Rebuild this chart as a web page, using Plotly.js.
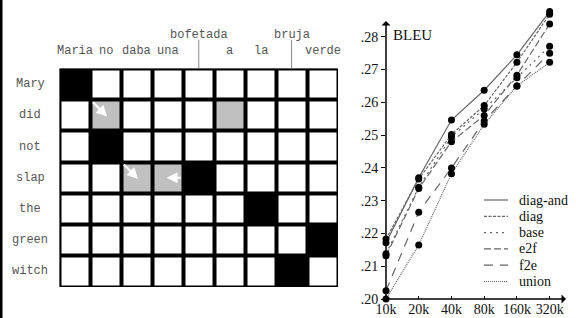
<!DOCTYPE html>
<html><head><meta charset="utf-8">
<script src="https://cdn.plot.ly/plotly-3.0.1.min.js"></script>
<style>html,body{margin:0;padding:0;background:#fff}#c{width:576px;height:318px}</style>
</head><body><div id="c"></div>
<script>
// ---- Alignment grid data ----
const srcWords = ["Maria","no","daba","una","bofetada","a","la","bruja","verde"];
const tgtWords = ["Mary","did","not","slap","the","green","witch"];
// 0 = empty, 1 = grown (grey), 2 = intersection (black)
const alignment = [
  [2,0,0,0,0,0,0,0,0],
  [0,1,0,0,0,1,0,0,0],
  [0,2,0,0,0,0,0,0,0],
  [0,0,1,1,2,0,0,0,0],
  [0,0,0,0,0,0,2,0,0],
  [0,0,0,0,0,0,0,0,2],
  [0,0,0,0,0,0,0,2,0]
];
// growth steps: [fromRow, fromCol, toRow, toCol]
const growth = [[0,0,1,1],[2,1,3,2],[3,4,3,3]];

// ---- BLEU chart data ----
const sizes = ["10k","20k","40k","80k","160k","320k"];
const bleuTicks = [0.20,0.21,0.22,0.23,0.24,0.25,0.26,0.27,0.28];
const bleuTickText = [".20",".21",".22",".23",".24",".25",".26",".27",".28"];
const diagAnd = [0.2172,0.2370,0.2546,0.2637,0.2745,0.2877];
const diag    = [0.2183,0.2366,0.2502,0.2590,0.2722,0.2869];
const base    = [0.2138,0.2341,0.2495,0.2580,0.2675,0.2771];
const e2f     = [0.2132,0.2337,0.2480,0.2560,0.2683,0.2839];
const f2e     = [0.2025,0.2265,0.2400,0.2543,0.2650,0.2750];
const union   = [0.2000,0.2165,0.2382,0.2533,0.2650,0.2722];

const seriesNames = ["diag-and","diag","base","e2f","f2e","union"];
const seriesVals = [diagAnd,diag,base,e2f,f2e,union];
const dashes = ["solid","3px,1.5px","2px,4px","7px,3px","9px,7px","1px,1px"];

const mono = "Liberation Mono, Courier New, monospace";
const serif = "Liberation Serif, Times New Roman, serif";

const traces = [];
traces.push({
  type:"heatmap", z: alignment, xaxis:"x", yaxis:"y",
  x: srcWords.map((_,i)=>i), y: tgtWords.map((_,i)=>i),
  colorscale:[[0,"#ffffff"],[0.5,"#c0c0c0"],[1,"#000000"]],
  zmin:0, zmax:2, showscale:false, xgap:4, ygap:4, hoverinfo:"skip"
});
const xi = sizes.map((_,i)=>i);
seriesVals.forEach((v,k)=>{
  traces.push({type:"scatter", mode:"lines", x:xi, y:v, xaxis:"x2", yaxis:"y2",
    name:seriesNames[k], showlegend:false, line:{color:"#666", width:1.2, dash:dashes[k]}, cliponaxis:false});
});
seriesVals.forEach((v,k)=>{
  traces.push({type:"scatter", mode:"markers", x:xi, y:v, xaxis:"x2", yaxis:"y2",
    showlegend:false, marker:{color:"#000", size:7}, cliponaxis:false});
});

const annotations = [];
const shapes = [
  {type:"rect", xref:"x", yref:"y", x0:-0.5, x1:8.5, y0:-0.5, y1:6.5, layer:"below",
   fillcolor:"#000", line:{color:"#000", width:3}},
  {type:"line", xref:"x", yref:"paper", x0:4, x1:4, y0:1-40/318, y1:1-68/318, line:{color:"#888", width:1}},
  {type:"line", xref:"x", yref:"paper", x0:7, x1:7, y0:1-40/318, y1:1-68/318, line:{color:"#888", width:1}},
  {type:"rect", xref:"paper", yref:"paper", x0:0, x1:2.5/576, y0:0, y1:1, fillcolor:"#000", line:{width:0}}
];

srcWords.forEach((w,i)=>{
  const upper = (i===4 || i===7);
  annotations.push({xref:"x", yref:"paper", x:i, y: upper ? 1-35/318 : 1-51/318,
    text:w, showarrow:false, font:{family:mono, size:12, color:"#555"}, xanchor:"center", yanchor:"middle"});
});
tgtWords.forEach((w,j)=>{
  annotations.push({xref:"paper", yref:"y", x:30/576, y:j, text:w, showarrow:false,
    font:{family:mono, size:12, color:"#555"}, xanchor:"center", yanchor:"middle"});
});
growth.forEach(g=>{
  const [r0,c0,r1,c1] = g;
  annotations.push({xref:"x", yref:"y", axref:"x", ayref:"y",
    x: c1 + 0.04*(c1-c0), y: r1 + 0.04*(r1-r0),
    ax: c0 + 0.53*(c1-c0), ay: r0 + 0.53*(r1-r0),
    text:"", showarrow:true, arrowhead:2, arrowsize:1, arrowwidth:2.2, arrowcolor:"#fff", standoff:0});
});
// BLEU axes with arrows
annotations.push({xref:"x2", yref:"y2", axref:"x2", ayref:"y2", x:0, y:0.2848, ax:0, ay:0.20,
  text:"", showarrow:true, arrowhead:1, arrowsize:1, arrowwidth:1.5, arrowcolor:"#000", standoff:0});
annotations.push({xref:"x2", yref:"y2", axref:"x2", ayref:"y2", x:5.5, y:0.20, ax:0, ay:0.20,
  text:"", showarrow:true, arrowhead:1, arrowsize:1, arrowwidth:1.5, arrowcolor:"#000", standoff:0});
annotations.push({xref:"x2", yref:"y2", x:0.15, y:0.2805, text:"BLEU", showarrow:false,
  xanchor:"left", yanchor:"middle", font:{family:serif, size:15, color:"#111"}});

// Legend (line samples + names), one row per series
const legX0 = 484/576, legX1 = 508/576, legTextX = 517/576;
seriesNames.forEach((n,k)=>{
  const yp = 1 - (200 + k*16.3)/318;
  shapes.push({type:"line", xref:"paper", yref:"paper", x0:legX0, x1:legX1, y0:yp, y1:yp,
    line:{color:"#666", width:1.2, dash:dashes[k]}});
  annotations.push({xref:"paper", yref:"paper", x:legTextX, y:yp, text:n, showarrow:false,
    xanchor:"left", yanchor:"middle", font:{family:serif, size:14, color:"#111"}});
});

const layout = {
  width:576, height:318, margin:{l:0,r:0,t:0,b:0,pad:0,autoexpand:false},
  paper_bgcolor:"#fff", plot_bgcolor:"rgba(0,0,0,0)", showlegend:false,
  xaxis:{domain:[59.5/576, 338/576], range:[-0.5,8.5], showgrid:false, zeroline:false,
    showticklabels:false, ticks:"", fixedrange:true, automargin:false},
  yaxis:{domain:[1-287/318, 1-68.5/318], range:[6.5,-0.5], showgrid:false, zeroline:false,
    showticklabels:false, ticks:"", fixedrange:true, automargin:false},
  xaxis2:{domain:[386/576, 566/576], range:[0,5.5], anchor:"y2", showgrid:false, zeroline:false,
    showline:false, tickvals:xi, ticktext:sizes, ticks:"inside", ticklen:3, tickcolor:"#000",
    tickfont:{family:serif, size:14, color:"#111"}, automargin:false},
  yaxis2:{domain:[1-299/318, 1-5/318], range:[0.20,0.2897], anchor:"x2", showgrid:false, zeroline:false,
    showline:false, tickvals:bleuTicks, ticktext:bleuTickText, ticks:"outside", ticklen:4, tickcolor:"#000",
    tickfont:{family:serif, size:14, color:"#111"}, automargin:false},
  annotations, shapes
};
Plotly.newPlot("c", traces, layout, {staticPlot:true, displayModeBar:false});
</script></body></html>
